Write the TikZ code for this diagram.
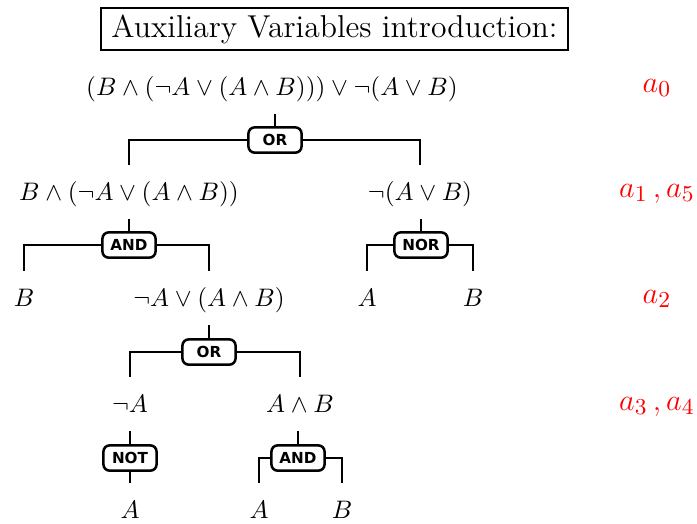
\documentclass[tikz,border=0pt]{standalone}
\usepackage{amsmath}
\usepackage{fontspec}
\newfontfamily\gatefont{DejaVu Sans}
\begin{document}
\begin{tikzpicture}[x=0.395pt,y=-0.395pt,
  every node/.style={inner sep=0pt, outer sep=0pt},
  term/.style={anchor=base, text height=14pt, text depth=7.5pt, font=\fontsize{10}{12}\selectfont},
  gate/.style={draw, line width=1pt, rounded corners=2.5pt, minimum width=21pt, minimum height=10pt, font=\gatefont\bfseries\fontsize{6}{7}\selectfont},
  wire/.style={line width=1pt},
  lbl/.style={anchor=base, text=red, font=\fontsize{12.5}{14}\selectfont}]
\useasboundingbox (0,0) rectangle (697,523);
\node[draw, line width=0.6pt, minimum width=184.5pt, minimum height=16.6pt, font=\fontsize{12.5}{15}\selectfont] (title) at (334.5,29) {Auxiliary Variables introduction:};
% terms
\node[term] (n0) at (272,95) {$(B \land (\neg A \lor (A \land B))) \lor \neg(A \lor B)$};
\node[term] (n1) at (129,200) {$B \land (\neg A \lor (A \land B))$};
\node[term] (n5) at (420,200) {$\neg(A \lor B)$};
\node[term] (n2b) at (24,306) {$B$};
\node[term] (n2) at (209,306) {$\neg A \lor (A \land B)$};
\node[term] (n5a) at (367,306) {$A$};
\node[term] (n5b) at (473,306) {$B$};
\node[term] (n3a) at (130,412) {$\neg A$};
\node[term] (n3b) at (300,412) {$A \land B$};
\node[term] (n4a) at (130,518) {$A$};
\node[term] (n4b) at (259,518) {$A$};
\node[term] (n4c) at (342,518) {$B$};
% gates
\node[gate] (g0) at (275,140) {OR};
\node[gate] (g1) at (129,245) {AND};
\node[gate] (g5) at (421,245) {NOR};
\node[gate] (g2) at (209,352) {OR};
\node[gate] (g3) at (130,458) {NOT};
\node[gate] (g4) at (298,458) {AND};
% wires
\draw[wire] (g0.north) -- (g0.north |- n0.south);
\draw[wire] (g0.west) -| (n1.north);
\draw[wire] (g0.east) -| (n5.north);
\draw[wire] (g1.north) -- (g1.north |- n1.south);
\draw[wire] (g1.west) -| (n2b.north);
\draw[wire] (g1.east) -| (n2.north);
\draw[wire] (g5.north) -- (g5.north |- n5.south);
\draw[wire] (g5.west) -| (n5a.north);
\draw[wire] (g5.east) -| (n5b.north);
\draw[wire] (g2.north) -- (g2.north |- n2.south);
\draw[wire] (g2.west) -| (n3a.north);
\draw[wire] (g2.east) -| (n3b.north);
\draw[wire] (g3.north) -- (g3.north |- n3a.south);
\draw[wire] (g3.south) -- (g3.south |- n4a.north);
\draw[wire] (g4.north) -- (g4.north |- n3b.south);
\draw[wire] (g4.west) -| (n4b.north);
\draw[wire] (g4.east) -| (n4c.north);
% labels
\node[lbl] (l0) at (657,92) {$a_0$};
\node[lbl] (l1) at (657,197) {$a_1\,,a_5$};
\node[lbl] (l2) at (657,303) {$a_2$};
\node[lbl] (l3) at (657,410) {$a_3\,,a_4$};
\end{tikzpicture}
\end{document}
